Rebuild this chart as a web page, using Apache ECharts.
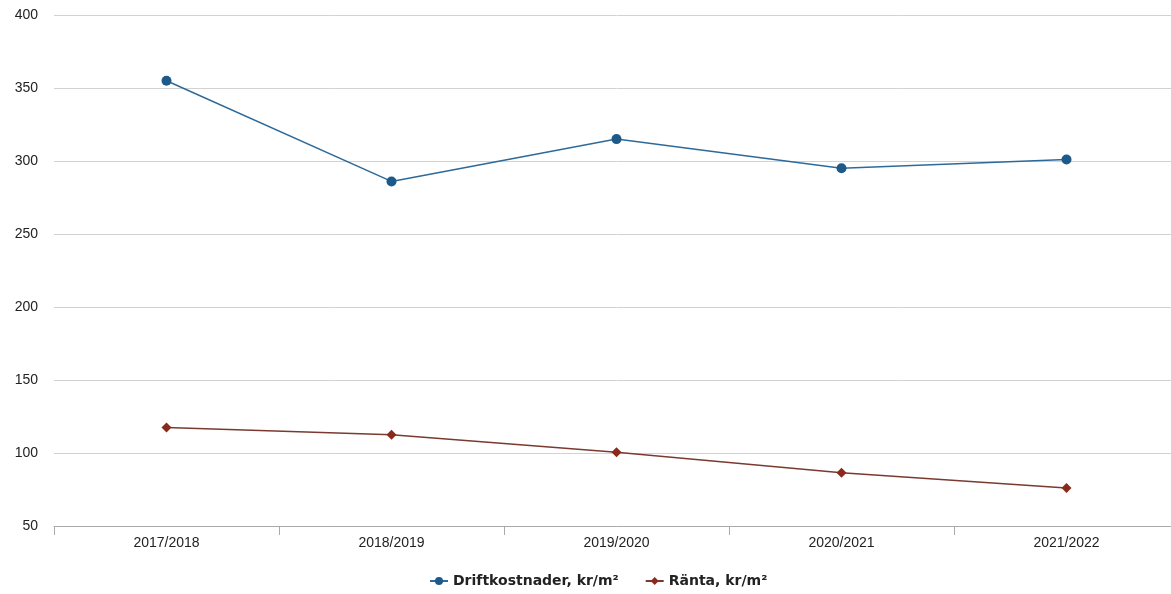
<!DOCTYPE html>
<html><head><meta charset="utf-8">
<script src="https://cdn.jsdelivr.net/npm/echarts@6/dist/echarts.min.js"></script>
<style>html,body{margin:0;padding:0;background:#fff;overflow:hidden;width:1171px;height:594px}#c{width:1179px;height:594px}</style>
</head><body><div id="c"></div>
<script>
const categories = ['2017/2018','2018/2019','2019/2020','2020/2021','2021/2022'];
const driftkostnader = [355, 286, 315, 295, 301];
const ranta = [117.5, 112.5, 100.5, 86.5, 76];
const seriesNames = ['Driftkostnader, kr/m²', 'Ränta, kr/m²'];

const chart = echarts.init(document.getElementById('c'));
chart.setOption({
  animation: false,
  backgroundColor: '#fff',
  grid: {left: 54, right: 0, top: 15, bottom: 68, containLabel: false},
  legend: {
    top: 569, left: 424,
    itemWidth: 18, itemHeight: 10, itemGap: 26,
    textStyle: {fontFamily: 'DejaVu Sans', fontWeight: 'bold', fontSize: 14, color: '#222'},
    data: [seriesNames[0], seriesNames[1]]
  },
  xAxis: {
    type: 'category', data: categories, boundaryGap: true,
    axisLine: {lineStyle: {color: '#aaa'}},
    axisTick: {show: true, length: 9, lineStyle: {color: '#aaa'}},
    axisLabel: {fontFamily: 'Liberation Sans', fontSize: 14, color: '#222', margin: 10}
  },
  yAxis: {
    type: 'value', min: 50, max: 400, interval: 50,
    axisLine: {show: false}, axisTick: {show: false},
    axisLabel: {fontFamily: 'Liberation Sans', fontSize: 14, color: '#222', margin: 16},
    splitLine: {lineStyle: {color: '#d2d2d2', width: 1}}
  },
  series: [
    {name: seriesNames[0], type: 'line', data: driftkostnader,
     symbol: 'circle', symbolSize: 10,
     itemStyle: {color: '#1d5a8a'}, lineStyle: {color: '#2d6a9a', width: 1.5}},
    {name: seriesNames[1], type: 'line', data: ranta,
     symbol: 'diamond', symbolSize: 10,
     itemStyle: {color: '#8a2a1c'}, lineStyle: {color: '#7a3a30', width: 1.5}}
  ]
});
</script></body></html>
